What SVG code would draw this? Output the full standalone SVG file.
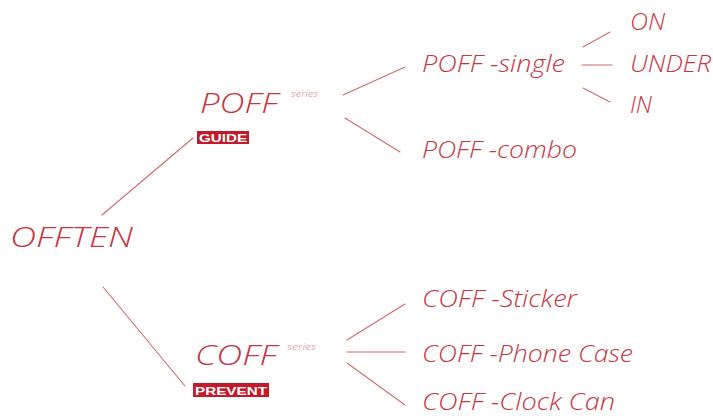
<svg xmlns="http://www.w3.org/2000/svg" width="713" height="416" viewBox="0 0 713 416">
  <style>
    .t { font-family: "Open Sans", "Liberation Sans", sans-serif; font-style: italic; font-weight: 300; fill: #c9353f; }
    .series { font-family: "Open Sans", "Liberation Sans", sans-serif; font-style: italic; font-weight: 300; font-size: 9px; fill: #d9868b; }
    .tag { fill: #c41a2c; }
    .tagtext { font-family: "Liberation Sans", Arial, sans-serif; font-weight: 700; font-size: 11.5px; fill: #ffffff; }
    .link { stroke: #d06a70; stroke-width: 1.1; fill: none; stroke-linecap: round; }
  </style>
  <rect width="713" height="416" fill="#ffffff"/>

  <g id="connectors">
    <line class="link" x1="102" y1="215" x2="193" y2="138"/>
    <line class="link" x1="103" y1="287" x2="185" y2="386"/>
    <line class="link" x1="343" y1="95" x2="405" y2="67"/>
    <line class="link" x1="345" y1="118" x2="400" y2="152"/>
    <line class="link" x1="583" y1="47" x2="610" y2="32"/>
    <line class="link" x1="582" y1="65" x2="612" y2="65"/>
    <line class="link" x1="583" y1="88" x2="610" y2="102"/>
    <line class="link" x1="347" y1="340" x2="405" y2="304"/>
    <line class="link" x1="347" y1="352" x2="405" y2="352"/>
    <line class="link" x1="347" y1="363" x2="405" y2="405"/>
  </g>

  <g id="offten">
    <text class="t" x="10" y="247" font-size="27" textLength="123" lengthAdjust="spacingAndGlyphs">OFFTEN</text>
  </g>

  <g id="poff">
    <text class="t" x="200" y="113" font-size="28" textLength="78" lengthAdjust="spacingAndGlyphs">POFF</text>
    <text class="series" x="291" y="97" textLength="27" lengthAdjust="spacingAndGlyphs">series</text>
    <rect class="tag" x="197" y="131" width="52" height="13"/>
    <text class="tagtext" x="199" y="142" textLength="48" lengthAdjust="spacingAndGlyphs">GUIDE</text>
  </g>

  <g id="coff">
    <text class="t" x="195" y="365" font-size="28" textLength="82" lengthAdjust="spacingAndGlyphs">COFF</text>
    <text class="series" x="287" y="350" textLength="29" lengthAdjust="spacingAndGlyphs">series</text>
    <rect class="tag" x="193" y="383" width="76" height="14"/>
    <text class="tagtext" x="195" y="394.5" textLength="72" lengthAdjust="spacingAndGlyphs">PREVENT</text>
  </g>

  <g id="poff-single">
    <text class="t" x="422" y="72" font-size="23" textLength="143" lengthAdjust="spacingAndGlyphs">POFF -single</text>
  </g>
  <g id="poff-combo">
    <text class="t" x="422" y="158" font-size="23" textLength="155" lengthAdjust="spacingAndGlyphs">POFF -combo</text>
  </g>
  <g id="on">
    <text class="t" x="630" y="30" font-size="23" textLength="35" lengthAdjust="spacingAndGlyphs">ON</text>
  </g>
  <g id="under">
    <text class="t" x="630" y="72" font-size="23" textLength="81" lengthAdjust="spacingAndGlyphs">UNDER</text>
  </g>
  <g id="in">
    <text class="t" x="630" y="113" font-size="23" textLength="22" lengthAdjust="spacingAndGlyphs">IN</text>
  </g>

  <g id="coff-sticker">
    <text class="t" x="422" y="307" font-size="23" textLength="155" lengthAdjust="spacingAndGlyphs">COFF -Sticker</text>
  </g>
  <g id="coff-phone-case">
    <text class="t" x="422" y="362" font-size="23" textLength="211" lengthAdjust="spacingAndGlyphs">COFF -Phone Case</text>
  </g>
  <g id="coff-clock-can">
    <text class="t" x="422" y="410" font-size="23" textLength="193" lengthAdjust="spacingAndGlyphs">COFF -Clock Can</text>
  </g>
</svg>
